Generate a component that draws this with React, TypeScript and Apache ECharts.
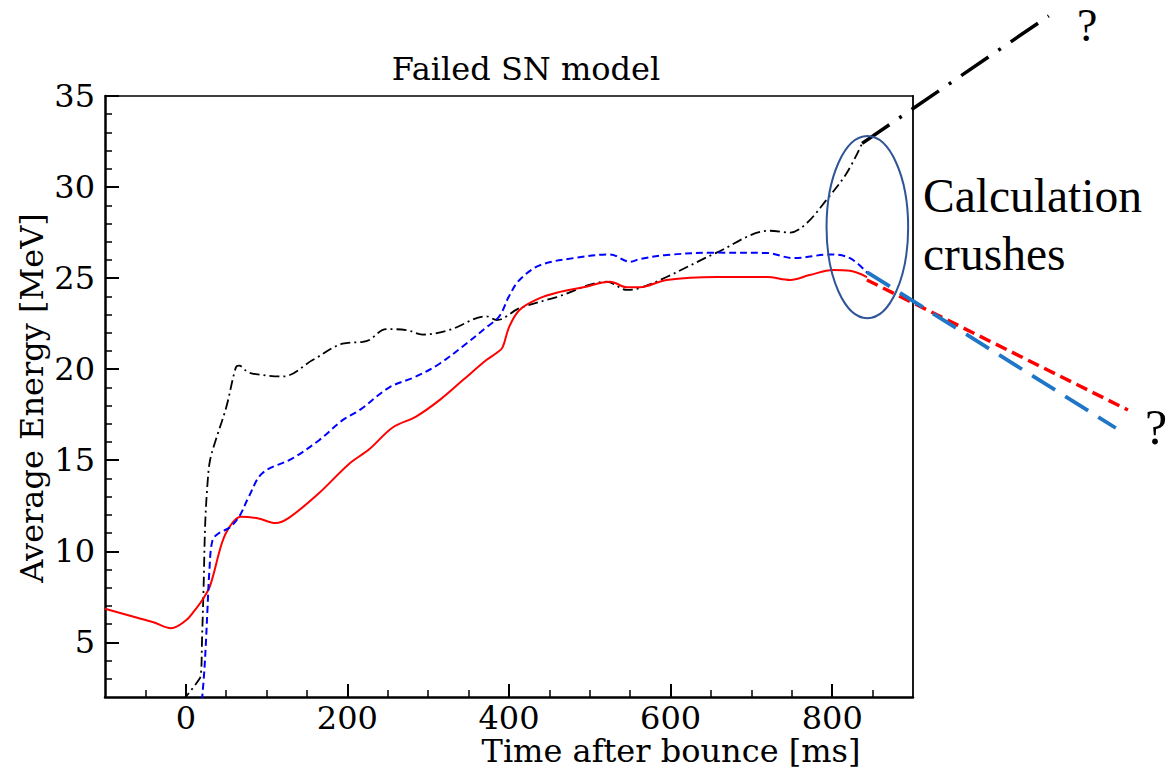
import React, { useEffect, useRef } from "react";
import * as echarts from "echarts";

// Average neutrino energy [MeV] versus time after bounce [ms]
const nueData: [number, number][] = [
  [-100, 6.85], [-60, 6.35], [-40, 6.1], [-18, 5.78], [0, 6.2], [10, 6.7], [20, 7.3],
  [30, 8.1], [45, 10.5], [55, 11.4], [68, 11.9], [90, 11.8], [111, 11.55], [128, 11.85],
  [165, 13.2], [202, 14.8], [227, 15.6], [256, 16.8], [285, 17.4], [314, 18.3],
  [343, 19.4], [372, 20.5], [385, 20.9], [392, 21.2], [400, 22.3], [413, 23.25],
  [438, 23.9], [459, 24.2], [492, 24.5], [525, 24.8], [546, 24.5], [562, 24.5],
  [595, 24.9], [657, 25.06], [719, 25.06], [748, 24.9], [772, 25.17], [801, 25.44],
  [822, 25.4], [843, 25.06],
];

const nuebarData: [number, number][] = [
  [20, 1.8], [23, 3.5], [25, 5.1], [27, 7.0], [29, 8.8], [33, 10.6], [41, 11.0],
  [54, 11.3], [66, 11.9], [78, 13.0], [95, 14.3], [132, 15.1], [165, 16.1],
  [194, 17.2], [215, 17.75], [252, 19.0], [285, 19.6], [314, 20.3], [347, 21.4],
  [372, 22.3], [388, 22.9], [400, 24.0], [413, 24.9], [438, 25.7], [480, 26.1],
  [525, 26.3], [550, 25.9], [562, 26.05], [595, 26.27], [657, 26.4], [719, 26.38],
  [752, 26.1], [798, 26.3], [822, 26.1], [843, 25.3],
];

const nuxData: [number, number][] = [
  [-4, 1.8], [17, 3.0], [19, 3.4], [20, 5.0], [22, 8.0], [24, 11.5], [27, 13.8],
  [30, 15.0], [37, 16.1], [50, 17.9], [62, 20.1], [66, 20.2], [75, 19.9],
  [83, 19.75], [120, 19.6], [157, 20.5], [194, 21.4], [219, 21.5], [227, 21.6],
  [248, 22.2], [273, 22.15], [293, 21.9], [326, 22.15], [372, 22.9], [385, 22.7],
  [413, 23.35], [459, 23.96], [521, 24.8], [546, 24.35], [562, 24.46], [595, 25.06],
  [657, 26.4], [723, 27.6], [748, 27.5], [768, 28.0], [793, 29.3], [818, 30.77],
  [837, 32.4],
];

// Speculative continuations after the run stops
const nuxTrend: [number, number][] = [[837, 32.4], [1068, 39.4]];
const nueTrend: [number, number][] = [[843, 24.9], [1166, 17.76]];
const nuebarTrend: [number, number][] = [[843, 25.33], [1151, 16.77]];

// Axis ranges and ticks
const xRange = [-100, 900];
const yRange = [2, 35];
const xWideRange = [-100, 1200];
const yWideRange = [2, 40];
const xMajorTicks = [0, 200, 400, 600, 800];
const yMajorTicks = [5, 10, 15, 20, 25, 30, 35];
const xMinorTicks: number[] = [];
for (let t = -50; t < 900; t += 50) if (!xMajorTicks.includes(t)) xMinorTicks.push(t);
const yMinorTicks: number[] = [];
for (let v = 3; v < 35; v += 1) if (!yMajorTicks.includes(v)) yMinorTicks.push(v);

// Region where the calculation stops (time range, energy range)
const stopRegionTime = [793, 894];
const stopRegionEnergy = [22.8, 32.8];

const SERIF = "DejaVu Serif";
const TIMES = "Liberation Serif";

// Plot frame in pixels
const FRAME = { left: 105, top: 96, width: 808, height: 601 };

export default function App() {
  const ref = useRef<HTMLDivElement>(null);

  useEffect(() => {
    document.body.style.margin = "0";
    const chart = echarts.init(ref.current!, null, { renderer: "svg" });

    const labelFont = { fontFamily: SERIF, fontSize: 32, lineHeight: 28, color: "#000" };
    const blank = { show: false };

    // A wider, invisible grid sharing the same scale lets the trend lines run past the frame
    const pxPerX = FRAME.width / (xRange[1] - xRange[0]);
    const pxPerY = FRAME.height / (yRange[1] - yRange[0]);
    const wideGrid = {
      left: FRAME.left,
      top: FRAME.top - (yWideRange[1] - yRange[1]) * pxPerY,
      width: (xWideRange[1] - xWideRange[0]) * pxPerX,
      height: (yWideRange[1] - yWideRange[0]) * pxPerY,
    };

    const xAxisBase = { type: "value" as const, gridIndex: 0, min: xRange[0], max: xRange[1], splitLine: blank };
    const yAxisBase = { type: "value" as const, gridIndex: 0, min: yRange[0], max: yRange[1], splitLine: blank };

    chart.setOption({
      animation: false,
      backgroundColor: "#fff",
      grid: [FRAME, wideGrid],
      xAxis: [
        {
          ...xAxisBase,
          position: "bottom",
          axisLine: { show: true, onZero: false, lineStyle: { color: "#000", width: 2.5 } },
          axisTick: { show: true, inside: true, length: 13, customValues: xMajorTicks, lineStyle: { color: "#000", width: 2 } },
          axisLabel: { show: true, margin: 6.5, customValues: xMajorTicks, ...labelFont },
        },
        {
          ...xAxisBase,
          position: "bottom",
          axisLine: { show: false, onZero: false },
          axisTick: { show: true, inside: true, length: 7, customValues: xMinorTicks, lineStyle: { color: "#000", width: 1.5 } },
          axisLabel: blank,
        },
        {
          ...xAxisBase,
          position: "top",
          axisLine: { show: true, onZero: false, lineStyle: { color: "#000", width: 1.5 } },
          axisTick: blank,
          axisLabel: blank,
        },
        { type: "value", gridIndex: 1, min: xWideRange[0], max: xWideRange[1], show: false },
      ],
      yAxis: [
        {
          ...yAxisBase,
          position: "left",
          axisLine: { show: true, onZero: false, lineStyle: { color: "#000", width: 2.5 } },
          axisTick: { show: true, inside: true, length: 14, customValues: yMajorTicks, lineStyle: { color: "#000", width: 2 } },
          axisLabel: { show: true, margin: 10, customValues: yMajorTicks, ...labelFont },
        },
        {
          ...yAxisBase,
          position: "left",
          axisLine: { show: false, onZero: false },
          axisTick: { show: true, inside: true, length: 7, customValues: yMinorTicks, lineStyle: { color: "#000", width: 1.5 } },
          axisLabel: blank,
        },
        {
          ...yAxisBase,
          position: "right",
          axisLine: { show: true, onZero: false, lineStyle: { color: "#000", width: 1.8 } },
          axisTick: blank,
          axisLabel: blank,
        },
        { type: "value", gridIndex: 1, min: yWideRange[0], max: yWideRange[1], show: false },
      ],
      series: [
        {
          type: "line", data: nueData, symbol: "none", smooth: 0.35,
          lineStyle: { color: "#ff0000", width: 2 }, z: 3,
        },
        {
          type: "line", data: nuebarData, symbol: "none", smooth: 0.35,
          lineStyle: { color: "#0000ff", width: 2, type: [7, 4] }, z: 3,
        },
        {
          type: "line", data: nuxData, symbol: "none", smooth: 0.35,
          lineStyle: { color: "#000000", width: 1.8, type: [10, 4, 2, 4] }, z: 2,
        },
        {
          type: "line", data: nueTrend, symbol: "none", clip: false, xAxisIndex: 3, yAxisIndex: 3,
          lineStyle: { color: "#ff0000", width: 3.5, type: [12, 6] }, z: 4,
        },
        {
          type: "line", data: nuebarTrend, symbol: "none", clip: false, xAxisIndex: 3, yAxisIndex: 3,
          lineStyle: { color: "#1f75c6", width: 3.8, type: [27, 12] }, z: 5,
        },
        {
          type: "line", data: nuxTrend, symbol: "none", clip: false, xAxisIndex: 3, yAxisIndex: 3,
          lineStyle: { color: "#000000", width: 3.5, type: [33, 12, 3, 12] }, z: 5,
        },
      ],
    });

    const [ex0, ey0] = chart.convertToPixel({ gridIndex: 0 }, [stopRegionTime[0], stopRegionEnergy[1]]) as number[];
    const [ex1, ey1] = chart.convertToPixel({ gridIndex: 0 }, [stopRegionTime[1], stopRegionEnergy[0]]) as number[];

    chart.setOption({
      graphic: [
        {
          type: "text", x: 526, y: 69,
          style: { text: "Failed SN model", fontFamily: SERIF, fontSize: 32, fill: "#000", align: "center", verticalAlign: "middle" },
        },
        {
          type: "text", x: 671, y: 751,
          style: { text: "Time after bounce [ms]", fontFamily: SERIF, fontSize: 32, lineHeight: 28, fill: "#000", align: "center", verticalAlign: "middle" },
        },
        {
          type: "text", x: 32, y: 398, rotation: Math.PI / 2,
          style: { text: "Average Energy [MeV]", fontFamily: SERIF, fontSize: 32, fill: "#000", align: "center", verticalAlign: "middle" },
        },
        {
          type: "ellipse", z: 10,
          shape: { cx: (ex0 + ex1) / 2, cy: (ey0 + ey1) / 2, rx: Math.abs(ex1 - ex0) / 2, ry: Math.abs(ey1 - ey0) / 2 },
          style: { fill: "none", stroke: "#2f5597", lineWidth: 2 },
        },
        {
          type: "text", x: 923, y: 196,
          style: { text: "Calculation", fontFamily: TIMES, fontSize: 47.5, fill: "#000", align: "left", verticalAlign: "middle" },
        },
        {
          type: "text", x: 923, y: 254,
          style: { text: "crushes", fontFamily: TIMES, fontSize: 47.5, fill: "#000", align: "left", verticalAlign: "middle" },
        },
        {
          type: "text", x: 1077, y: 25,
          style: { text: "?", fontFamily: TIMES, fontSize: 46, fill: "#000", align: "left", verticalAlign: "middle" },
        },
        {
          type: "text", x: 1145, y: 427,
          style: { text: "?", fontFamily: TIMES, fontSize: 50, fill: "#000", align: "left", verticalAlign: "middle" },
        },
      ],
    });

    return () => chart.dispose();
  }, []);

  return <div ref={ref} style={{ position: "fixed", left: 0, top: 0, width: 1167, height: 768 }} />;
}
